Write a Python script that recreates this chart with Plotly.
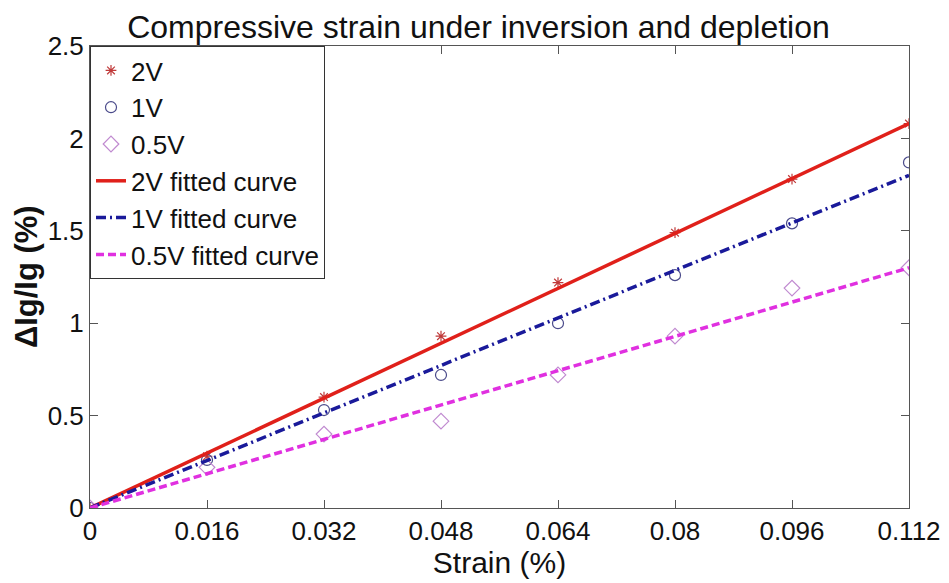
import plotly.graph_objects as go

strain = [0, 0.016, 0.032, 0.048, 0.064, 0.08, 0.096, 0.112]
v2 = [0, 0.28, 0.60, 0.93, 1.22, 1.49, 1.78, 2.08]
v1 = [0, 0.26, 0.53, 0.72, 1.00, 1.26, 1.54, 1.87]
v05 = [0, 0.22, 0.40, 0.47, 0.72, 0.93, 1.19, 1.30]

fit_x = [0, 0.112]
fit_2v = [0, 2.08]
fit_1v = [0, 1.80]
fit_05v = [0, 1.30]

x_ticks = [0, 0.016, 0.032, 0.048, 0.064, 0.08, 0.096, 0.112]
x_tick_labels = ["0", "0.016", "0.032", "0.048", "0.064", "0.08", "0.096", "0.112"]
y_ticks = [0, 0.5, 1, 1.5, 2, 2.5]
y_tick_labels = ["0", "0.5", "1", "1.5", "2", "2.5"]

FONT = "Liberation Sans, Arial, sans-serif"

fig = go.Figure()
fig.add_trace(go.Scatter(x=strain, y=v2, mode="markers", name="2V", legendgroup="a",
                         marker=dict(symbol="asterisk-open", size=9, color="#c03a3a",
                                     line=dict(width=1.2, color="#c03a3a"))))
fig.add_trace(go.Scatter(x=strain, y=v1, mode="markers", name="1V", legendgroup="b",
                         marker=dict(symbol="circle-open", size=11, color="#4a4a8a",
                                     line=dict(width=1.2, color="#4a4a8a"))))
fig.add_trace(go.Scatter(x=strain, y=v05, mode="markers", name="0.5V", legendgroup="c",
                         marker=dict(symbol="diamond-open", size=12, color="#c08ad0",
                                     line=dict(width=1.2, color="#c08ad0"))))
fig.add_trace(go.Scatter(x=fit_x, y=fit_2v, mode="lines", name="2V fitted curve", legendgroup="d",
                         line=dict(color="#e0201a", width=3.5)))
fig.add_trace(go.Scatter(x=fit_x, y=fit_1v, mode="lines", name="1V fitted curve", legendgroup="e",
                         line=dict(color="#1a1a9a", width=3.5, dash="10px,4px,2px,4px")))
fig.add_trace(go.Scatter(x=fit_x, y=fit_05v, mode="lines", name="0.5V fitted curve", legendgroup="f",
                         line=dict(color="#e030e0", width=3.5, dash="8px,4px")))

fig.update_layout(
    width=941, height=575,
    margin=dict(l=82, r=40, t=38, b=75),
    paper_bgcolor="white", plot_bgcolor="white",
    font=dict(family=FONT, size=26, color="#111"),
    title=dict(text="Compressive strain under inversion and depletion",
               x=0.5, xanchor="center", y=0.986, yanchor="top",
               font=dict(size=32, family=FONT, color="#111")),
    showlegend=True,
    legend=dict(x=0, y=1, xanchor="left", yanchor="top",
                bordercolor="#333", borderwidth=1, bgcolor="white",
                font=dict(size=26, family=FONT, color="#111"),
                traceorder="grouped", tracegroupgap=0,
                itemwidth=30),
    xaxis=dict(range=[0, 0.112], tickvals=x_ticks, ticktext=x_tick_labels,
               ticks="inside", ticklen=8, tickcolor="#555", showline=True,
               linecolor="#555", linewidth=1, mirror="ticks", showgrid=False,
               zeroline=False, tickfont=dict(size=26), automargin=False,
               title=dict(text="Strain (%)", font=dict(size=30), standoff=0)),
    yaxis=dict(range=[0, 2.5], tickvals=y_ticks, ticktext=y_tick_labels,
               ticks="inside", ticklen=8, tickcolor="#555", showline=True,
               linecolor="#555", linewidth=1, mirror="ticks", showgrid=False,
               zeroline=False, tickfont=dict(size=26), automargin=False),
    annotations=[dict(text="<b>ΔIg/Ig (%)</b>", xref="paper", yref="paper",
                      x=-0.078, y=0.5, xanchor="center", yanchor="middle",
                      textangle=-90, showarrow=False,
                      font=dict(size=31, family=FONT, color="#111"))],
)

fig.write_html("out.html")
